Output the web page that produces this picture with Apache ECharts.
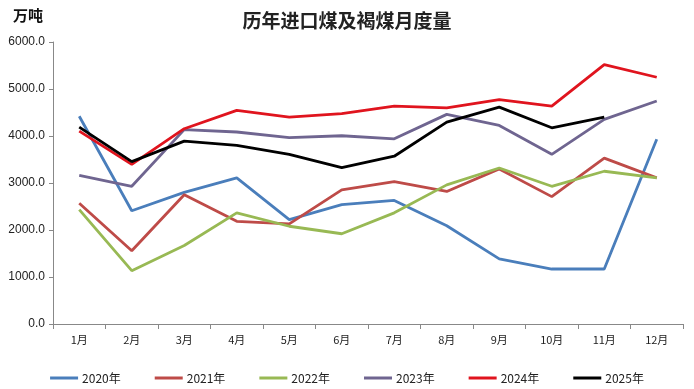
<!DOCTYPE html>
<html><head><meta charset="utf-8">
<script src="https://cdn.jsdelivr.net/npm/echarts@6/dist/echarts.min.js"></script>
<style>html,body{margin:0;padding:0;background:#fff}#c{width:694px;height:389px}</style>
</head><body><div id="c"></div>
<script>
const months = ['1月','2月','3月','4月','5月','6月','7月','8月','9月','10月','11月','12月'];
const y2020 = [4420,2410,2800,3110,2220,2540,2630,2090,1385,1170,1170,3930];
const y2021 = [2570,1560,2750,2185,2130,2855,3030,2820,3300,2710,3530,3110];
const y2022 = [2435,1135,1670,2365,2080,1920,2365,2960,3320,2930,3250,3110];
const y2023 = [3160,2930,4135,4085,3965,4005,3940,4460,4225,3610,4355,4745];
const y2024 = [4105,3395,4155,4545,4400,4475,4635,4600,4775,4635,5520,5250];
const y2025 = [4190,3455,3890,3800,3610,3325,3570,4295,4615,4175,4400,null];
const names = ['2020年','2021年','2022年','2023年','2024年','2025年'];
const colors = ['#4A7EBB','#BE4B48','#98B954','#6F6590','#E0141E','#000000'];
const values = [y2020,y2021,y2022,y2023,y2024,y2025];

const chart = echarts.init(document.getElementById('c'));
chart.setOption({
  animation:false,
  backgroundColor:'#fff',
  title:[
    {text:'历年进口煤及褐煤月度量', left:'center', top:6,
     textStyle:{fontFamily:'Noto Sans CJK SC', fontSize:19, fontWeight:'bold', color:'#222'}},
    {text:'万吨', left:8, top:3,
     textStyle:{fontFamily:'Noto Sans CJK SC', fontSize:15, fontWeight:'bold', color:'#111'}}
  ],
  legend:{
    top:367, left:'center', itemGap:34, itemWidth:28, itemHeight:3,
    icon:'rect',
    textStyle:{fontFamily:'Noto Sans CJK SC', fontSize:12, color:'#222', padding:[0,0,0,-1]},
    data:names
  },
  grid:{left:53, right:11, top:42, bottom:65},
  xAxis:{
    type:'category', data:months, boundaryGap:true,
    axisLine:{lineStyle:{color:'#888'}},
    axisTick:{show:true, inside:false, length:5, lineStyle:{color:'#888'}},
    axisLabel:{fontFamily:'Noto Sans CJK SC', fontSize:11, color:'#222', margin:10}
  },
  yAxis:{
    type:'value', min:0, max:6000, interval:1000,
    axisLine:{show:true, lineStyle:{color:'#888'}},
    axisTick:{show:true, length:4, lineStyle:{color:'#888'}},
    splitLine:{show:false},
    axisLabel:{formatter:v=>v.toFixed(1), fontFamily:'Liberation Sans', fontSize:12, color:'#222', margin:8}
  },
  series: names.map((n,i)=>({
    name:n, type:'line', data:values[i], symbol:'none',
    lineStyle:{width:2.8, color:colors[i]}, itemStyle:{color:colors[i]},
    z: i===5?10:(i===4?9:2)
  }))
});
</script></body></html>
